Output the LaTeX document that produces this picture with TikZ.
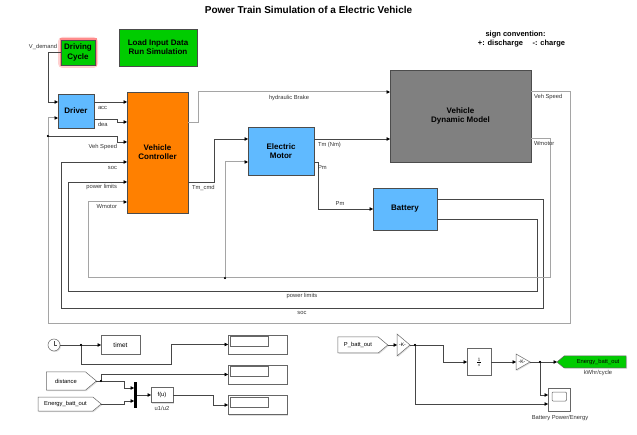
\documentclass[tikz,border=0pt]{standalone}
\usepackage{fontspec}
\setmainfont{Liberation Sans}
\usepackage{tikz}
\usetikzlibrary{arrows.meta,shadows,shapes.symbols,calc,positioning}
\pgfdeclarelayer{bg}
\pgfsetlayers{bg,main}
\definecolor{slgreen}{RGB}{0,204,0}
\definecolor{slblue}{RGB}{96,186,255}
\definecolor{slorange}{RGB}{255,128,0}
\definecolor{slgrey}{RGB}{128,128,128}
\definecolor{wiredark}{RGB}{70,70,70}
\definecolor{wirelight}{RGB}{165,165,165}
\newcommand{\sigfont}{\fontsize{5.8}{6.6}\selectfont}
\newcommand{\blkfont}{\fontsize{8}{9.2}\selectfont\bfseries}

\begin{document}
\begin{tikzpicture}[
	x = 1pt, y = -1pt,
	every node/.style = {inner sep = 0pt, outer sep = 0pt},
	blk/.style = {draw = black!70, line width = 0.6pt, align = center, font = \blkfont,
		drop shadow = {shadow xshift = 1.2pt, shadow yshift = -1.2pt, opacity = 0.35}},
	sblk/.style = {draw = black!60, fill = white, line width = 0.5pt, align = center, font = \sigfont,
		drop shadow = {shadow xshift = 1pt, shadow yshift = -1pt, opacity = 0.25}},
	gototag/.style = {sblk, signal, signal from = nowhere, signal pointer angle = 80},
	sig/.style = {draw = wiredark, line width = 0.5pt, -{Triangle[length = 3.5pt, width = 3.5pt, color = black]}},
	sigw/.style = {sig, draw = wirelight, line width = 1pt},
	siglab/.style = {font = \sigfont, text = black!80},
	jdot/.style = {circle, fill = black, minimum size = 2.2pt},
	]

	\useasboundingbox (0,0) rectangle (637,435);
	\begin{pgfonlayer}{bg}
		\fill[white] (0,0) rectangle (637,435);
	\end{pgfonlayer}

	\node[font = \fontsize{10}{12}\selectfont\bfseries] (title) at (308.5,10) {Power Train Simulation of a Electric Vehicle};
	\node[font = \fontsize{7.5}{9}\selectfont\bfseries] (sign1) at (515.5,35) {sign convention:};
	\node[font = \fontsize{7.5}{9}\selectfont\bfseries] (sign2) at (521.5,44) {+: discharge \quad -: charge};

	\node[blk, fill = slgreen, minimum width = 34, minimum height = 25] (cyc) at (78,52.5) {Driving\\Cycle};
	\begin{pgfonlayer}{bg}
		\draw[red!18, line width = 6pt, rounded corners = 2pt] (cyc.north west) rectangle (cyc.south east);
		\draw[red!45, line width = 3pt] (cyc.north west) rectangle (cyc.south east);
	\end{pgfonlayer}
	\node[blk, fill = slgreen, minimum width = 78, minimum height = 37] (load) at (158,47.5) {Load Input Data\\Run Simulation};
	\node[blk, fill = slblue, minimum width = 36, minimum height = 34] (drv) at (76,111) {Driver};
	\node[blk, fill = slorange, minimum width = 61, minimum height = 121] (ctrl) at (157.5,152.5) {Vehicle\\Controller};
	\node[blk, fill = slblue, minimum width = 66, minimum height = 48] (motor) at (281,151) {Electric\\Motor};
	\node[blk, fill = slblue, minimum width = 64, minimum height = 42] (batt) at (405,209) {Battery};
	\node[blk, fill = slgrey, minimum width = 141, minimum height = 92] (vdm) at (460.5,116) {Vehicle\\Dynamic Model};

	\node[jdot] (j1) at (48,136) {};
	\node[jdot] (j2) at (225,278) {};

	\draw[sig] (cyc.west |- 0,52) -- (48,52) |- (drv.west |- 0,102);
	\draw[sig] (drv.east |- 0,102) -- (ctrl.west |- 0,102);
	\draw[sig] (drv.east |- 0,119) -- (117,119) |- (ctrl.west |- 0,122);
	\draw[sigw] (vdm.east |- 0,92) -| (570,324) -| (48,118) -- (drv.west |- 0,118);
	\draw[sig] (j1.center) -- (117,136) |- (ctrl.west |- 0,142);
	\draw[sig] (batt.east |- 0,199) -- (543,199) |- (61,308) |- (ctrl.west |- 0,162);
	\draw[sig] (batt.east |- 0,219) -- (537,219) |- (68,291) |- (ctrl.west |- 0,182);
	\draw[sigw] (vdm.east |- 0,139) -- (550,139) |- (88,278) |- (ctrl.west |- 0,202);
	\draw[sigw] (j2.center) |- (motor.west |- 0,162);
	\draw[sigw] (ctrl.east |- 0,123) -- (198,123) |- (vdm.west |- 0,92);
	\draw[sig] (ctrl.east |- 0,182) -- (214,182) |- (motor.west |- 0,139);
	\draw[sig] (motor.east |- 0,139) -- (vdm.west |- 0,139);
	\draw[sig] (motor.east |- 0,162) -- (318,162) |- (batt.west |- 0,209);

	\node[jdot] at (j1) {};
	\node[jdot] at (j2) {};

	\node[siglab, anchor = east] (lvd) at (57,47) {V\_demand};
	\node[siglab, anchor = west] (lacc) at (98,108) {acc};
	\node[siglab, anchor = west] (ldea) at (98,124.5) {dea};
	\node[siglab, anchor = east] (lvs1) at (117,147) {Veh Speed};
	\node[siglab, anchor = east] (lsoc1) at (117,168) {soc};
	\node[siglab, anchor = east] (lpl1) at (117,187) {power limits};
	\node[siglab, anchor = east] (lwm1) at (117,207) {Wmotor};
	\node[siglab] (lhb) at (289,98) {hydraulic Brake};
	\node[siglab, anchor = west] (ltc) at (192,188) {Tm\_cmd};
	\node[siglab, anchor = west] (ltm) at (318,145) {Tm (Nm)};
	\node[siglab, anchor = west] (lpm1) at (318,168) {Pm};
	\node[siglab] (lpm2) at (340,204) {Pm};
	\node[siglab, anchor = west] (lvs2) at (534,97) {Veh Speed};
	\node[siglab, anchor = west] (lwm2) at (534,144) {Wmotor};
	\node[siglab] (lpl2) at (302,296.5) {power limits};
	\node[siglab] (lsoc2) at (302,313) {soc};

	\node[sblk, circle, minimum size = 12] (clk) at (54,345) {};
	\draw[black!70, line width = 0.5pt] (clk.center) -- ++(0,-4.2) (clk.center) -- ++(3.2,0);
	\node[sblk, minimum width = 39, minimum height = 19, font = \fontsize{6.5}{7}\selectfont] (timet) at (120.5,345) {timet};
	\foreach \n/\yy in {1/344.5, 2/374.5, 3/405}{
		\node[sblk, minimum width = 59, minimum height = 19] (disp\n) at (257.5,\yy) {};
		\draw[black!60, line width = 0.5pt] ($(disp\n.north west)+(2,1.5)$) rectangle ++(38,10);
	}
	\node[gototag, signal to = east, minimum width = 50, minimum height = 18] (dist) at (66,381) {distance};
	\node[gototag, signal to = east, minimum width = 63, minimum height = 14] (ebin) at (65.5,404) {Energy\_batt\_out};
	\node[fill = black, minimum width = 3, minimum height = 26] (mux) at (135.5,395) {};
	\node[sblk, minimum width = 22, minimum height = 15] (fu) at (162,395) {f(u)};
	\node[siglab] (lfu) at (162,408) {u1/u2};

	\node[jdot] (j3) at (81,345) {};
	\node[jdot] (j4) at (101,381) {};

	\draw[sig] (clk.east) -- (timet.west);
	\draw[sig] (j3.center) |- (171,364) |- (disp1.west);
	\draw[sig] (dist.east) -- (124,381) |- (mux.west |- 0,388);
	\draw[sig] (j4.center) |- (disp2.west);
	\draw[sig] (ebin.east) -- (124,404) |- (mux.west |- 0,401);
	\draw[sig] (mux.east) -- (fu.west);
	\draw[sig] (fu.east) -- (213,395) |- (disp3.west);

	\node[jdot] at (j3) {};
	\node[jdot] at (j4) {};

	\node[gototag, signal to = east, minimum width = 50, minimum height = 16] (pbo) at (358,345) {P\_batt\_out};
	\node[minimum width = 13, minimum height = 22] (g1) at (403.5,345) {};
	\draw[sblk] (g1.north west) -- (g1.east) -- (g1.south west) -- cycle;
	\node[font = \fontsize{5}{6}\selectfont] at (402.5,345) {-K-};
	\node[sblk, minimum width = 24, minimum height = 27, font = \fontsize{6}{7}\selectfont] (intg) at (479,362) {$\frac{1}{s}$};
	\node[minimum width = 14, minimum height = 16] (g2) at (523,362) {};
	\draw[sblk] (g2.north west) -- (g2.east) -- (g2.south west) -- cycle;
	\node[font = \fontsize{5}{6}\selectfont] at (522,362) {-K-};
	\node[gototag, signal to = west, fill = slgreen, minimum width = 69, minimum height = 12, anchor = west] (ebo) at (557,362) {\hspace{6pt}Energy\_batt\_out};
	\node[siglab] (lkwh) at (598,373.5) {kWhr/cycle};
	\node[sblk, minimum width = 22, minimum height = 23] (scope) at (559,399.5) {};
	\draw[black!60, line width = 0.5pt, rounded corners = 1pt] ($(scope.north west)+(4,4)$) rectangle ++(14.5,9);
	\node[siglab] (lscope) at (560,417.5) {Battery Power/Energy};

	\node[jdot] (j5) at (415,345) {};
	\node[jdot] (j6) at (540,362) {};

	\draw[sig] (pbo.east) -- (g1.west);
	\draw[sig] (g1.east) -- (443,345) |- (intg.west);
	\draw[sig] (j5.center) |- (scope.west |- 0,404);
	\draw[sig] (intg.east) -- (g2.west);
	\draw[sig] (g2.east) -- (ebo.west);
	\draw[sig] (j6.center) |- (scope.west |- 0,395);

	\node[jdot] at (j5) {};
	\node[jdot] at (j6) {};

\end{tikzpicture}
\end{document}
